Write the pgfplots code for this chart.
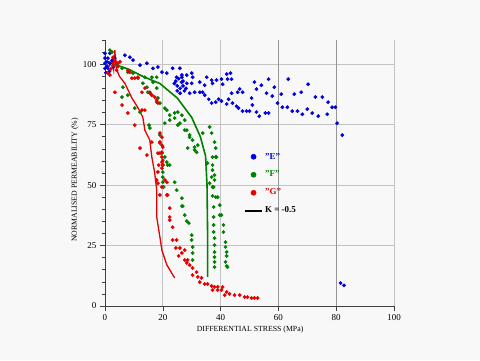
\documentclass[border=0pt]{standalone}
\usepackage{fontspec}
\setmainfont{Liberation Serif}
\usepackage{pgfplots}
\pgfplotsset{compat=1.18}
\definecolor{bg}{RGB}{248,248,248}
\definecolor{cE}{RGB}{0,0,225}
\definecolor{cF}{RGB}{0,128,0}
\definecolor{cG}{RGB}{230,0,0}
\definecolor{gridc}{RGB}{195,195,195}
\definecolor{gridd}{RGB}{150,150,150}
\begin{document}
\begin{tikzpicture}[x=1pt,y=1pt]
\fill[bg] (-105,-54) rectangle (375,306);
\begin{axis}[
  at={(0,0)}, anchor=south west, scale only axis,
  width=289pt, height=266pt,
  xmin=0, xmax=100, ymin=0, ymax=110,
  axis x line*=bottom, axis y line*=left,
  axis line style={-, draw=black!75, line width=0.6pt},
  xtick={0,20,40,100}, extra x ticks={60,80},
  extra x tick style={major grid style={gridd, line width=1pt}},
  ytick={0,25,50,75,100},
  minor ytick={5,10,...,110},
  tick align=outside, major tick length=5pt, minor tick length=3pt,
  tick style={black!75, line width=0.5pt},
  grid=major, major grid style={gridc, line width=0.9pt},
  ticklabel style={font=\fontsize{9}{10}\selectfont},
  /pgf/number format/assume math mode=true,
  xlabel={DIFFERENTIAL STRESS (MPa)},
  ylabel={NORMALISED PERMEABILITY (\%)},
  xlabel style={at={(axis description cs:0.502,-0.09)}, anchor=center, font=\fontsize{7.8}{9}\selectfont},
  ylabel style={at={(axis description cs:-0.104,0.474)}, anchor=center, font=\fontsize{7.8}{9}\selectfont},
  legend style={at={(axis cs:47,65)}, anchor=north west, draw=none, fill=none,
    font=\bfseries\fontsize{9}{10}\selectfont, row sep=6.5pt},
  legend image post style={mark size=2.6pt},
  legend cell align=left,
]
\addplot[only marks, mark=*, mark size=1.7pt, cE, mark options={draw=cE, fill=cE}] coordinates {
(0,104.5)(1.7,104.5)(0,102.5)(1,102.5)(0.7,101)(0,100.4)(1.7,100.4)(2.4,101.6)(0,98.3)(1,98.3)(2.8,98.8)(0.7,99.2)(3.4,102.5)(0.3,96.5)(1.5,97)
(6.9,103.7)(8.6,102.9)(9.7,101.7)(12.1,99.6)(14.5,100.4)(16.6,98.3)(18.3,98.8)(19.7,96.7)(21.4,96.3)(23.4,98.3)(24.8,94.6)(26.6,95.5)(28.3,95.5)(30,96.3)
(24,92)(25,91)(26,90)(25,89)(26.5,92.5)(27,91)(28,90)(24.5,93)(26,88)(27.5,89)(25.5,94)(27,93)
(25.9,98.3)(26.6,94.6)(28.3,92.1)(30,92.1)(30.3,94.6)(32.8,92.6)(34.5,91.3)(35.2,94.6)(36.9,93.4)(37.2,92.1)(38.6,93.4)(40.3,93.8)(40.7,91.7)(42.1,95.9)(43.4,96.3)(42.4,93.8)(43.8,93.8)
(29.3,88)(31,88.4)(32.8,88.4)(33.8,88.4)(34.5,87.2)(35.9,85.5)(36.9,83.9)(38.3,84.3)(39.3,85.5)(40.3,84.7)(42.1,83.5)(42.8,85.5)(43.8,88)(44.1,83.9)(45.5,82.6)(45.9,88.4)(46.6,89.7)(47.6,88.4)
(46.2,81.8)(47.6,80.6)(49,80.6)(50,80.6)(50.7,86)(51,83.1)(51.7,92.6)(52.4,89.7)(52.4,80.2)(53.4,78.5)(54.1,91.3)(55.5,79.8)(56.6,79.8)(55.9,88)(56.6,93.8)(57.9,86.8)(58.6,90.5)(59.7,83.9)
(61,87.6)(61.4,82.2)(63.1,82.2)(63.4,93.8)(64.8,80.6)(65.5,87.6)(66.6,80.6)(68.3,79.3)(67.9,88.4)(70.3,91.7)(70,81.4)(71.7,79.8)(73.8,78.5)(72.8,86.4)(75.2,86.4)(77.2,84.3)(76.9,79.3)(78.6,82.2)(79.7,82.2)
(80.3,75.6)(82.1,70.7)(81.5,9.5)(82.7,8.5)
};
\addlegendentry{\textcolor{cE}{"E"}}
\addplot[only marks, mark=*, mark size=1.7pt, cF, mark options={draw=cF, fill=cF}] coordinates {
(1.7,105.8)(2.4,105)(4.1,99.6)(5.9,98.3)(7.9,96.7)(9.7,96.3)(11.4,94.2)(13.8,94.6)(16.2,94.6)(16.6,92.6)(17.9,94.6)(14.5,90.5)(13.1,92.1)(14.8,88.4)(17.9,84.3)(16.2,87.2)
(6.2,90.5)(5.9,86.4)(7.9,87.2)(10.3,81.8)(12.1,80.2)(20.7,81.8)(22.4,78.9)(24.1,79.8)(15.5,88.4)(17.9,90.1)(19,83.9)(18.3,86)(21.4,81)(22.4,76.9)(25.2,80.2)(24.1,77.7)(25.2,74.8)
(26.6,78.9)(27.6,76.9)(28.3,72.7)(29.3,69.8)(30.3,68.6)(31,65.7)(31.7,63.6)(28.6,65.3)(33.8,71.5)(36.2,74)(36.9,71.5)(37.9,67.8)(38.3,65.3)(38.6,61.6)(35.5,59.1)
(15.2,74.8)(15.5,73.6)(19,70.7)(19,67.4)(19.7,63.2)(20,58.3)(20,55.4)(20,53.3)(20,51.2)(20.3,49.2)(21.7,58.3)(22.4,58.3)(24.1,51.2)(24.8,47.9)(26.6,44.6)(20.7,75.6)(25.9,75.6)(27.6,72.7)(29.3,70.7)(31,64.5)(32.1,66.5)(21.4,59.5)(20.7,61.6)
(26.9,41.3)(27.6,37.6)(28.3,35.1)(29,34.3)(30,29.3)(30,27.3)(30.3,24.4)(30.3,21.9)(30.3,19)(26.6,41.3)
(37.2,61.6)(38.3,61.6)(37.2,58.3)(37.9,54.1)(37.9,52.1)(37.6,49.2)(37.2,45.5)(38.3,45)(39,45)(39.7,41.7)(37.6,40.9)(39.7,37.6)(40.3,37.6)(37.6,36.8)(37.6,33.5)(37.6,30.6)
(41,33.5)(41,30.6)(41.7,26.4)(37.9,28.1)(37.9,25.2)(37.9,22.3)(37.9,20.2)(37.9,18.2)(37.9,16.1)(41.7,24.4)(42.1,22.3)(42.1,20.7)(41.7,18.2)(42.1,16.5)(42.4,16.1)
(37.2,56.2)(36.9,53.3)(36.2,50.8)(37.2,49.2)
};
\addlegendentry{\textcolor{cF}{"F"}}
\addplot[cF, line width=1.6pt, forget plot] coordinates {
(1,101)(3,100)(8,98)(13,95)(19,92)(25,86)(30,78)(33,70)(34.8,62)(35.3,50)(35.5,30)(35.5,12)
};
\addplot[only marks, mark=*, mark size=1.7pt, cG, mark options={draw=cG, fill=cG}] coordinates {
(2.8,102.9)(3.4,101.7)(4.5,100.4)(2.8,99.6)(1,96.3)(1.7,95.5)(3.8,100.8)(4.5,99)(5.2,101)(2,98)(4,97.5)
(7.9,97.5)(8.6,96.7)(9.3,94.2)(10.3,94.2)(11.4,94.6)(12.8,88.4)(13.8,90.1)(15.5,88)(16.2,87.2)(17.2,86.4)(17.9,85.1)(18.3,83.9)(13.8,81)(12.8,81)
(3.4,88.4)(5.9,83.1)(7.9,79.8)(10.3,74.8)(12.1,65.3)(14.5,62.4)
(19,71.5)(19.7,69.8)(19,67.8)(19.7,66.5)(20,65.7)(19.7,63.6)(19,63.2)(19.7,61.6)(20,60.3)(19.7,59.5)(20,58.3)(18.3,55.4)(17.9,52.1)(19,45.9)(20.7,52.1)(21.4,45.9)(16.2,67.8)
(18.3,63.2)(18.6,58.3)(19.7,57)(18.3,50.8)(19.7,49.2)
(21.4,51.2)(21.7,45.9)(22.4,40.5)(22.4,36.8)(22.4,35.5)(23.4,32.6)(23.4,27.3)(24.8,27.3)(24.5,24)(25.9,24)(26.6,21.9)(25.5,20.7)(27.6,23.1)(27.6,19)(28.3,17.8)(28.6,19)(29.3,16.9)
(30.3,15.7)(30.3,12.8)(31.7,14)(32.1,12)(33.4,11.6)(32.8,9.9)(34.5,9.1)(35.5,9.1)(36.9,8.3)(37.9,7.9)(39,7.9)(37.2,6.6)(39,6.6)(40.3,6.6)(40.7,7.9)(42.1,5.8)(41.4,4.5)(43.1,5)
(44.8,4.5)(46.6,4.5)(48.3,3.7)(49.3,3.7)(50.7,3.3)(51.7,3.3)(52.8,3.3)
};
\addlegendentry{\textcolor{cG}{"G"}}
\addplot[cG, line width=1.3pt, forget plot] coordinates {
(1.5,99)(2.5,102)(3,98)(3.4,105.8)(3.8,99)(4.1,97.5)(5,95)(6.9,92)(9.3,86)(11.4,82)(13.1,78)(13.8,72.7)(15.5,68.6)(16.2,61.6)(17.2,55)(17.9,48)(17.9,36.8)(19,28.5)(19.7,23)(21.4,17)(24.1,11.6)
};
\addlegendimage{black, line width=2pt}
\addlegendentry{\textcolor{black}{K = -0.5}}
\node[font=\bfseries\fontsize{11}{13}\selectfont, anchor=south] at (axis cs:51.7,110) [yshift=3pt] {WEAK SANDSTONES};
\end{axis}
\end{tikzpicture}
\end{document}
